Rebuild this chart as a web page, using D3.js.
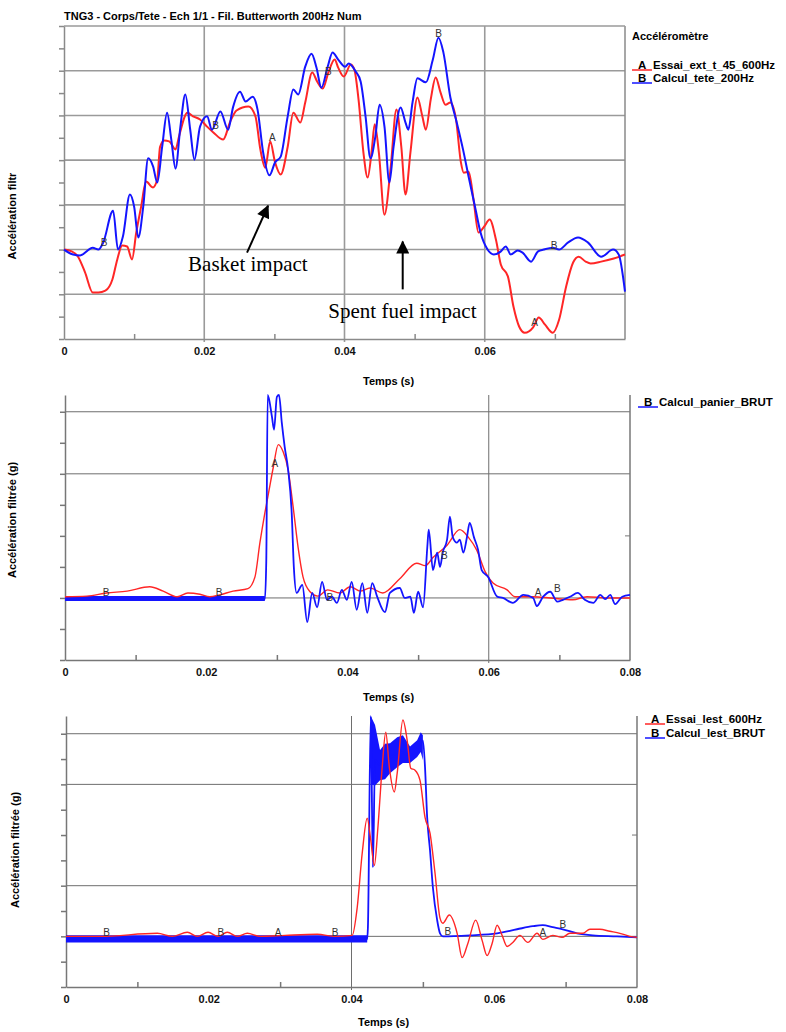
<!DOCTYPE html>
<html>
<head>
<meta charset="utf-8">
<script src="https://cdn.jsdelivr.net/npm/d3@7"></script>
<style>
  body { margin: 0; background: #fff; }
  svg { display: block; font-family: "Liberation Sans", Arial, sans-serif; }
</style>
</head>
<body>
<svg id="chart" width="786" height="1032"></svg>
<script>
// ---- shared axis values ----
var timeTicks = [0, 0.02, 0.04, 0.06, 0.08];
var timeMinor = [0.01, 0.03, 0.05, 0.07];

// ---- top panel : head accelerometer (t [s], value) ----
var topEssai = [[0,0],[0.0011,-0.04],[0.0020,-0.16],[0.0030,-0.51],[0.0041,-0.96],[0.0049,-0.96],[0.0059,-0.92],[0.0069,-0.67],[0.0076,-0.22],[0.0083,0.09],[0.0090,0.07],[0.0097,-0.22],[0.0103,0.38],[0.0110,0.96],[0.0117,1.52],[0.0127,1.39],[0.0133,1.57],[0.0137,2.30],[0.0143,2.44],[0.0150,2.42],[0.0159,2.24],[0.0164,2.53],[0.0176,3.06],[0.0184,2.98],[0.0194,2.91],[0.0204,2.75],[0.0213,2.62],[0.0227,2.46],[0.0237,2.86],[0.0246,3.11],[0.0263,3.20],[0.0273,2.98],[0.0280,2.24],[0.0287,1.83],[0.0294,2.42],[0.0301,1.95],[0.0309,1.68],[0.0319,2.30],[0.0327,3.06],[0.0337,2.84],[0.0344,3.29],[0.0354,3.96],[0.0361,3.76],[0.0369,3.60],[0.0377,3.96],[0.0386,4.25],[0.0391,4.07],[0.0399,3.87],[0.0409,4.14],[0.0414,4.03],[0.0420,3.36],[0.0427,2.17],[0.0433,1.61],[0.0439,2.24],[0.0443,2.80],[0.0449,2.17],[0.0457,0.78],[0.0466,1.86],[0.0474,3.13],[0.0481,2.30],[0.0487,1.23],[0.0494,2.17],[0.0504,3.40],[0.0511,2.98],[0.0516,2.68],[0.0523,3.36],[0.0530,3.85],[0.0537,3.51],[0.0544,3.24],[0.0551,3.29],[0.0559,2.91],[0.0566,1.95],[0.0570,1.72],[0.0577,1.74],[0.0584,1.12],[0.0591,0.38],[0.0599,0.51],[0.0607,0.67],[0.0616,0.22],[0.0623,-0.34],[0.0633,-0.60],[0.0641,-1.28],[0.0649,-1.72],[0.0657,-1.86],[0.0669,-1.74],[0.0677,-1.52],[0.0686,-1.68],[0.0697,-1.86],[0.0706,-1.57],[0.0716,-0.83],[0.0726,-0.29],[0.0734,-0.16],[0.0744,-0.27],[0.0751,-0.31],[0.0766,-0.27],[0.0784,-0.20],[0.0800,-0.11]];
var topCalcul = [[0,0],[0.0013,-0.11],[0.0023,-0.13],[0.0041,0.04],[0.0049,0],[0.0056,0.16],[0.0070,0.87],[0.0077,0],[0.0084,0.29],[0.0094,1.23],[0.0100,0.96],[0.0106,0.27],[0.0113,0.96],[0.0120,2.04],[0.0127,1.86],[0.0133,1.50],[0.0140,2.30],[0.0147,3.06],[0.0153,2.46],[0.0159,1.81],[0.0166,2.75],[0.0173,3.47],[0.0180,2.68],[0.0186,2.01],[0.0194,2.75],[0.0204,2.98],[0.0211,2.68],[0.0223,3.09],[0.0234,2.68],[0.0241,3.18],[0.0251,3.53],[0.0259,3.31],[0.0269,3.42],[0.0276,3.13],[0.0284,2.17],[0.0293,1.66],[0.0301,1.95],[0.0309,2.08],[0.0319,2.98],[0.0327,3.58],[0.0334,3.47],[0.0344,4.09],[0.0353,4.38],[0.0360,4.07],[0.0367,3.62],[0.0376,4.09],[0.0383,4.41],[0.0391,4.25],[0.0401,4.09],[0.0406,4.16],[0.0416,3.98],[0.0423,3.76],[0.0430,2.98],[0.0437,2.04],[0.0444,2.53],[0.0450,3.24],[0.0457,2.75],[0.0464,1.50],[0.0470,2.30],[0.0480,3.18],[0.0487,2.84],[0.0491,2.68],[0.0497,3.29],[0.0504,3.83],[0.0516,3.74],[0.0526,4.25],[0.0534,4.74],[0.0541,4.41],[0.0551,3.40],[0.0559,2.91],[0.0569,2.24],[0.0577,1.63],[0.0587,0.89],[0.0594,0.38],[0.0604,0],[0.0613,-0.11],[0.0623,-0.04],[0.0630,0.07],[0.0637,-0.11],[0.0647,-0.02],[0.0654,-0.07],[0.0666,-0.27],[0.0676,-0.04],[0.0684,0],[0.0697,0.04],[0.0706,0],[0.0719,0.16],[0.0733,0.27],[0.0747,0.16],[0.0766,-0.16],[0.0783,0],[0.0791,-0.11],[0.0800,-0.94]];
var topLetters = [["B",0.0057,0.16],["B",0.0216,2.77],["A",0.0297,2.51],["B",0.0377,3.98],["B",0.0534,4.83],["B",0.0699,0.09],["A",0.0671,-1.63]];
var topNotes = [["Basket impact",0.0177,-0.47],["Spent fuel impact",0.0377,-1.54]];
var topArrows = [[0.0261,-0.07,0.0291,0.98],[0.0483,-0.89,0.0483,0.18]];

// ---- middle panel : basket ----
var panierEssai = [[0,0.02],[0.0031,0.03],[0.0059,0.08],[0.0088,0.11],[0.0120,0.18],[0.0139,0.11],[0.0159,0.02],[0.0174,0.08],[0.0191,0.06],[0.0205,0.02],[0.0219,0.05],[0.0238,0.11],[0.0259,0.15],[0.0269,0.34],[0.0276,0.89],[0.0283,1.37],[0.0289,1.74],[0.0295,2.11],[0.0302,2.47],[0.0309,2.35],[0.0316,2.06],[0.0323,1.47],[0.0330,0.82],[0.0337,0.34],[0.0347,0.10],[0.0358,0.03],[0.0372,0.13],[0.0389,0.08],[0.0404,0.18],[0.0418,0.11],[0.0432,0.16],[0.0450,0.08],[0.0474,0.31],[0.0498,0.56],[0.0510,0.52],[0.0521,0.65],[0.0541,0.85],[0.0559,1.10],[0.0571,0.98],[0.0583,0.77],[0.0595,0.42],[0.0606,0.24],[0.0626,0.13],[0.0637,0.02],[0.0663,0.02],[0.0687,0],[0.0719,-0.03],[0.0739,0.02],[0.0767,0],[0.0800,0]];
var panierCalcul = [[0,-0.02],[0.0283,-0.02],[0.0285,0.6],[0.0287,3.27],[0.0293,2.92],[0.0296,2.71],[0.0300,3.24],[0.0303,3.27],[0.0307,2.82],[0.0311,2.44],[0.0316,2.06],[0.0321,1.37],[0.0324,0.50],[0.0328,0.08],[0.0336,0.21],[0.0343,-0.39],[0.0350,0.08],[0.0357,-0.15],[0.0364,0.26],[0.0371,-0.03],[0.0378,0.02],[0.0385,-0.08],[0.0392,0.13],[0.0399,-0.03],[0.0406,0.26],[0.0413,-0.19],[0.0421,0.24],[0.0428,-0.24],[0.0435,0.24],[0.0442,0.02],[0.0453,-0.23],[0.0460,0.08],[0.0474,0.16],[0.0481,0],[0.0489,0.02],[0.0494,-0.24],[0.0500,0.10],[0.0507,-0.15],[0.0513,0.82],[0.0515,1.10],[0.0521,0.45],[0.0527,0.73],[0.0531,0.50],[0.0535,0.74],[0.0541,0.94],[0.0545,1.31],[0.0549,0.98],[0.0555,0.89],[0.0559,0.94],[0.0564,0.73],[0.0569,0.97],[0.0573,1.21],[0.0579,0.98],[0.0585,0.77],[0.0590,0.45],[0.0599,0.34],[0.0612,0.02],[0.0620,0],[0.0634,-0.08],[0.0649,0.05],[0.0663,0],[0.0668,-0.13],[0.0677,0.02],[0.0687,0.10],[0.0697,-0.06],[0.0705,-0.03],[0.0715,0.02],[0.0726,0.08],[0.0736,-0.03],[0.0748,-0.08],[0.0758,0.05],[0.0765,-0.02],[0.0772,0.05],[0.0779,-0.10],[0.0789,0.02],[0.0800,0.05]];
var panierBand = [[0,-0.05,0.03],[0.0283,-0.05,0.03]]; // noise envelope (t, low, high)
var panierLetters = [["B",0.0058,0.08],["B",0.0218,0.08],["A",0.0297,2.16],["B",0.0375,0],["B",0.0537,0.68],["A",0.0670,0.08],["B",0.0697,0.16]];

// ---- bottom panel : ballast ----
var lestEssai = [[0,0],[0.0048,0],[0.0128,0.06],[0.0149,0],[0.0170,0.08],[0.0184,0],[0.0199,0.08],[0.0213,0],[0.0226,0.08],[0.0240,0],[0.0254,0.06],[0.0272,0],[0.0307,0.02],[0.0352,0.04],[0.0377,0],[0.0401,0.02],[0.0408,0.57],[0.0415,1.64],[0.0422,2.33],[0.0427,1.90],[0.0432,1.40],[0.0437,2.15],[0.0443,3.34],[0.0448,4.03],[0.0453,3.34],[0.0460,2.85],[0.0464,3.22],[0.0472,4.27],[0.0478,3.87],[0.0483,3.32],[0.0489,3.28],[0.0496,3.08],[0.0503,2.35],[0.0510,2.04],[0.0517,1.25],[0.0524,0.36],[0.0528,0.26],[0.0537,0.42],[0.0548,0.06],[0.0555,-0.42],[0.0563,-0.14],[0.0574,0.32],[0.0583,-0.08],[0.0590,-0.38],[0.0597,-0.14],[0.0604,0.22],[0.0611,0.02],[0.0618,-0.20],[0.0626,-0.12],[0.0636,0.02],[0.0647,-0.12],[0.0660,0.06],[0.0668,-0.06],[0.0682,0.02],[0.0695,-0.02],[0.0706,0.06],[0.0724,0.06],[0.0734,0.14],[0.0748,0.14],[0.0762,0.10],[0.0776,0.06],[0.0790,0],[0.0800,-0.02]];
var lestCalcul = [[0,-0.06],[0.0422,-0.06],[0.0423,0.18],[0.0427,4.35],[0.0430,1.36],[0.0433,3.48],[0.0440,3.38],[0.0454,3.52],[0.0468,3.64],[0.0482,3.58],[0.0496,3.77],[0.0500,3.87],[0.0503,3.34],[0.0506,2.35],[0.0510,1.70],[0.0514,0.97],[0.0520,0.32],[0.0524,0.06],[0.0528,0],[0.0566,0.02],[0.0604,0.06],[0.0632,0.14],[0.0654,0.20],[0.0668,0.22],[0.0682,0.18],[0.0696,0.14],[0.0716,0.06],[0.0738,0.02],[0.0772,0],[0.0800,-0.02]];
var lestBandLow = [[0,-0.12,0.02],[0.0422,-0.12,0.02]];
var lestBandHigh = [[0.0427,3.0,4.35],[0.0433,2.98,4.17],[0.0440,3.08,3.68],[0.0447,3.10,3.80],[0.0454,3.22,3.81],[0.0464,3.34,3.93],[0.0472,3.42,3.97],[0.0482,3.42,3.75],[0.0492,3.54,3.87],[0.0497,3.64,4.03],[0.0500,3.48,3.97]];
var lestLetters = [["B",0.0057,0.08],["B",0.0217,0.08],["A",0.0297,0.08],["B",0.0377,0.08],["B",0.0535,0.10],["A",0.0668,0.08],["B",0.0696,0.24]];

var RED = "#ff2626", BLUE = "#1414ff";

var svg = d3.select("#chart");

// arrow head for the annotations
svg.append("defs").append("marker")
    .attr("id", "head")
    .attr("viewBox", "0 -6 12 12")
    .attr("refX", 11).attr("refY", 0)
    .attr("markerUnits", "userSpaceOnUse")
    .attr("markerWidth", 14).attr("markerHeight", 13)
    .attr("orient", "auto")
  .append("path")
    .attr("d", "M0,-6L12,0L0,6Z")
    .style("fill", "black");

function drawPanel(p) {
  var g = svg.append("g");
  var x = d3.scaleLinear().domain([0, 0.08]).range([p.left, p.right]);
  var y = d3.scaleLinear().domain(p.yDomain).range([p.bottom, p.top]);

  //grid lines
  g.selectAll("line.hgrid").data(p.hGrid).enter().append("line")
      .attr("x1", p.left).attr("x2", p.right)
      .attr("y1", function(d) { return y(d); }).attr("y2", function(d) { return y(d); })
      .style("stroke", p.gridColor).style("stroke-width", p.gridWidth);
  g.selectAll("line.vgrid").data(p.vGrid).enter().append("line")
      .attr("x1", function(d) { return x(d); }).attr("x2", function(d) { return x(d); })
      .attr("y1", p.top).attr("y2", p.bottom + 3)
      .style("stroke", p.gridColor).style("stroke-width", p.gridWidth);

  // frame (right side, top for first panel)
  g.append("line").attr("x1", p.right).attr("x2", p.right).attr("y1", p.top).attr("y2", p.bottom)
      .style("stroke", p.axisColor).style("stroke-width", 1.5);
  if (p.frameTop) {
    g.append("line").attr("x1", p.left).attr("x2", p.right).attr("y1", p.top).attr("y2", p.top)
        .style("stroke", p.gridColor).style("stroke-width", p.gridWidth);
  }
  // small inward ticks on the right border
  g.selectAll("line.rtick").data(p.rightTicks || []).enter().append("line")
      .attr("x1", p.right - 5).attr("x2", p.right)
      .attr("y1", function(d) { return y(d); }).attr("y2", function(d) { return y(d); })
      .style("stroke", p.axisColor);

  // left axis, ticks every half step
  var yTicks = d3.range(p.yDomain[0], Math.floor(p.yDomain[1]) + 0.01, 0.5);
  var ya = g.append("g").attr("transform", "translate(" + p.left + ",0)")
      .call(d3.axisLeft(y).tickValues(yTicks).tickSize(5).tickFormat("").tickSizeOuter(0));
  ya.selectAll("path,line").style("stroke", p.axisColor).style("stroke-width", 1.5);

  // bottom axis
  var xa = g.append("g").attr("transform", "translate(0," + p.bottom + ")")
      .call(d3.axisBottom(x).tickValues(p.xLabelled).tickSize(0).tickPadding(8).tickSizeOuter(0)
        .tickFormat(function(d) { return d === 0 ? "0" : d3.format(".2f")(d); }));
  xa.select("path").style("stroke", p.axisColor).style("stroke-width", 1.5);
  xa.selectAll("text").style("font-size", "11px").style("font-weight", "bold").style("fill", "#111");
  var xm = g.append("g").attr("transform", "translate(0," + p.bottom + ")")
      .call(d3.axisBottom(x).tickValues(timeMinor).tickSize(-5).tickFormat(""));
  xm.select("path").remove();
  xm.selectAll("line").style("stroke", p.axisColor).style("stroke-width", 1.5);

  // axis titles
  g.append("text").attr("x", p.xTitle[0]).attr("y", p.xTitle[1])
      .style("font-size", "11px").style("font-weight", "bold")
      .text("Temps (s)");
  g.append("text")
      .attr("transform", "translate(" + p.yTitle[0] + "," + p.yTitle[1] + ") rotate(-90)")
      .attr("text-anchor", "middle")
      .style("font-size", "11px").style("font-weight", "bold")
      .text(p.yLabel);

  var line = d3.line()
      .x(function(d) { return x(d[0]); })
      .y(function(d) { return y(d[1]); })
      .curve(d3.curveMonotoneX);
  var band = d3.area()
      .x(function(d) { return x(d[0]); })
      .y0(function(d) { return y(d[1]); })
      .y1(function(d) { return y(d[2]); });

  p.bands.forEach(function(b) {
    g.append("path").datum(b.data).attr("d", band).style("fill", b.color);
  });
  p.series.forEach(function(s) {
    g.append("path").datum(s.data).attr("d", line)
        .style("fill", "none").style("stroke", s.color).style("stroke-width", s.width)
        .style("stroke-linejoin", "round");
  });

  // curve letters
  g.selectAll("text.letter").data(p.letters).enter().append("text")
      .attr("class", "letter")
      .attr("x", function(d) { return x(d[1]); })
      .attr("y", function(d) { return y(d[2]); })
      .attr("dy", "0.35em")
      .attr("text-anchor", "middle")
      .style("font-size", "10px").style("fill", "#333")
      .text(function(d) { return d[0]; });

  // legend
  if (p.legendTitle) {
    g.append("text").attr("x", p.legendX).attr("y", p.legendTitle[1])
        .style("font-size", "11px").style("font-weight", "bold")
        .text(p.legendTitle[0]);
  }
  p.legend.forEach(function(l) {
    g.append("line").attr("x1", p.legendX).attr("x2", p.legendX + 20)
        .attr("y1", l.y + 1).attr("y2", l.y + 1)
        .style("stroke", l.color).style("stroke-width", 1.5);
    g.append("text").attr("x", p.legendX + 6).attr("y", l.y)
        .style("font-size", "11.5px").style("font-weight", "bold")
        .text(l.letter);
    g.append("text").attr("x", p.legendX + 21).attr("y", l.y)
        .style("font-size", "11.5px").style("font-weight", "bold")
        .text(l.name);
  });

  return {g: g, x: x, y: y};
}

// ---- top panel ----
svg.append("text").attr("x", 64).attr("y", 20)
    .style("font-size", "11px").style("font-weight", "bold")
    .text("TNG3 - Corps/Tete - Ech 1/1 - Fil. Butterworth 200Hz Num");

var headPanel = drawPanel({
  left: 64, right: 625, top: 26, bottom: 339, yDomain: [-2, 5],
  hGrid: [-1, 0, 1, 2, 3, 4], vGrid: [0.02, 0.04, 0.06], frameTop: true,
  gridColor: "#9a9a9a", gridWidth: 1.6, axisColor: "#8a8a8a",
  xLabelled: timeTicks.slice(0, 4), xTitle: [363, 385],
  yLabel: "Accélération filtr", yTitle: [16, 216],
  bands: [],
  series: [{data: topEssai, color: RED, width: 2}, {data: topCalcul, color: BLUE, width: 2}],
  letters: topLetters,
  legendX: 632, legendTitle: ["Accéléromètre", 40],
  legend: [{letter: "A", name: "Essai_ext_t_45_600Hz", color: RED, y: 69},
           {letter: "B", name: "Calcul_tete_200Hz", color: BLUE, y: 82}]
});

// annotations of the first panel
headPanel.g.selectAll("line.arrow").data(topArrows).enter().append("line")
    .attr("x1", function(d) { return headPanel.x(d[0]); }).attr("y1", function(d) { return headPanel.y(d[1]); })
    .attr("x2", function(d) { return headPanel.x(d[2]); }).attr("y2", function(d) { return headPanel.y(d[3]); })
    .attr("marker-end", "url(#head)")
    .style("stroke", "black").style("stroke-width", 2);
headPanel.g.selectAll("text.note").data(topNotes).enter().append("text")
    .attr("x", function(d) { return headPanel.x(d[1]); }).attr("y", function(d) { return headPanel.y(d[2]); })
    .style("font-family", "'Liberation Serif', 'Times New Roman', serif")
    .style("font-size", "21px")
    .text(function(d) { return d[0]; });

// ---- middle panel ----
drawPanel({
  left: 65, right: 630, top: 395, bottom: 660, yDomain: [-1, 3.27],
  hGrid: [0, 2, 3], vGrid: [0.06], rightTicks: [1],
  gridColor: "#6e6e6e", gridWidth: 1, axisColor: "#777",
  xLabelled: timeTicks, xTitle: [363, 701],
  yLabel: "Accélération filtrée (g)", yTitle: [16, 520],
  bands: [{data: panierBand, color: BLUE}],
  series: [{data: panierEssai, color: RED, width: 1.4}, {data: panierCalcul, color: BLUE, width: 1.8}],
  letters: panierLetters,
  legendX: 638,
  legend: [{letter: "B", name: "Calcul_panier_BRUT", color: BLUE, y: 406}]
});

// ---- bottom panel ----
drawPanel({
  left: 66, right: 637, top: 716, bottom: 987, yDomain: [-1, 4.35],
  hGrid: [0, 1, 3, 4], vGrid: [0.04], rightTicks: [2],
  gridColor: "#6e6e6e", gridWidth: 1, axisColor: "#777",
  xLabelled: timeTicks, xTitle: [358, 1026],
  yLabel: "Accélération filtrée (g)", yTitle: [19, 850],
  bands: [{data: lestBandLow, color: BLUE}, {data: lestBandHigh, color: BLUE}],
  series: [{data: lestCalcul, color: BLUE, width: 1.8}, {data: lestEssai, color: RED, width: 1.4}],
  letters: lestLetters,
  legendX: 645,
  legend: [{letter: "A", name: "Essai_lest_600Hz", color: RED, y: 723},
           {letter: "B", name: "Calcul_lest_BRUT", color: BLUE, y: 737}]
});
</script>
</body>
</html>
